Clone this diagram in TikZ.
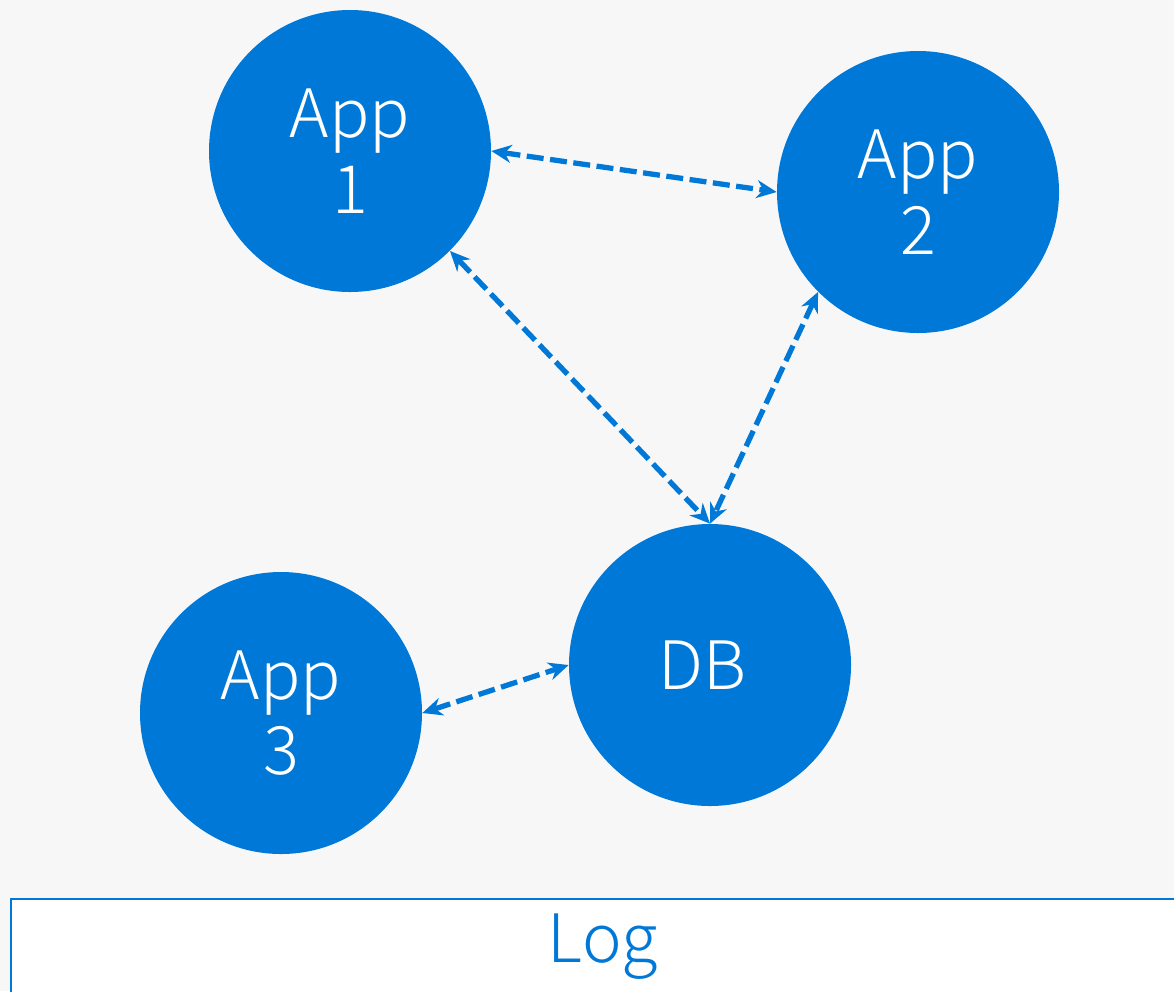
\documentclass[tikz,border=0pt]{standalone}
\usepackage{fontspec}
\setmainfont{Noto Sans CJK JP}[UprightFont=* Light]
\usepackage{tikz}
\usetikzlibrary{arrows.meta}
\usetikzlibrary{positioning}
\definecolor{appblue}{HTML}{0078D7}
\definecolor{bggray}{HTML}{F7F7F7}
\tikzset{
    app/.style={
           circle,
           fill=appblue,
           text=white,
           minimum size=5.64cm,
           inner sep=0pt,
           align=center,
           font=\fontsize{38}{43}\selectfont,
           },
}
\tikzset{
    link/.style={
           draw=appblue,
           line width=3pt,
           dash pattern=on 0.34cm off 0.13cm,
           },
}

\begin{document}
\begin{tikzpicture}[<->,>={Stealth[length=0.4cm,width=0.36cm]}]

 \useasboundingbox (0,0) rectangle (23.48,-19.82);
 \clip (0,0) rectangle (23.48,-19.82);
 \fill[bggray] (0,0) rectangle (23.48,-19.82);

 \node[app] (app1) at (7.0,-3.02)
 {App\\1
  };

 \node[app,
 node distance=11.36cm,
 right of=app1,
 yshift=-0.82cm] (app2)
 {App\\2
 };

 \node[app,
  below of=app1,
  node distance=10.28cm,
  xshift=7.2cm] (db)
 {DB
 };

 \node[app,
  left of=db,
  node distance=8.58cm,
  yshift=-0.96cm] (app3)
 {App\\3
 };

 % log bar at the bottom
 \draw[draw=appblue, fill=white, line width=1.1pt] (0.22,-17.98) rectangle (24,-20.5);
 \node[text=appblue, font=\fontsize{38}{43}\selectfont] (log) at (12.06,-18.94) {Log};

 \path (app1.east)       edge[link] (app2.west)
       (app1.south east) edge[link] (db.north)
       (app2.south west) edge[link] (db.north)
       (app3.east)       edge[link] (db.west)
;

\end{tikzpicture}
\end{document}
